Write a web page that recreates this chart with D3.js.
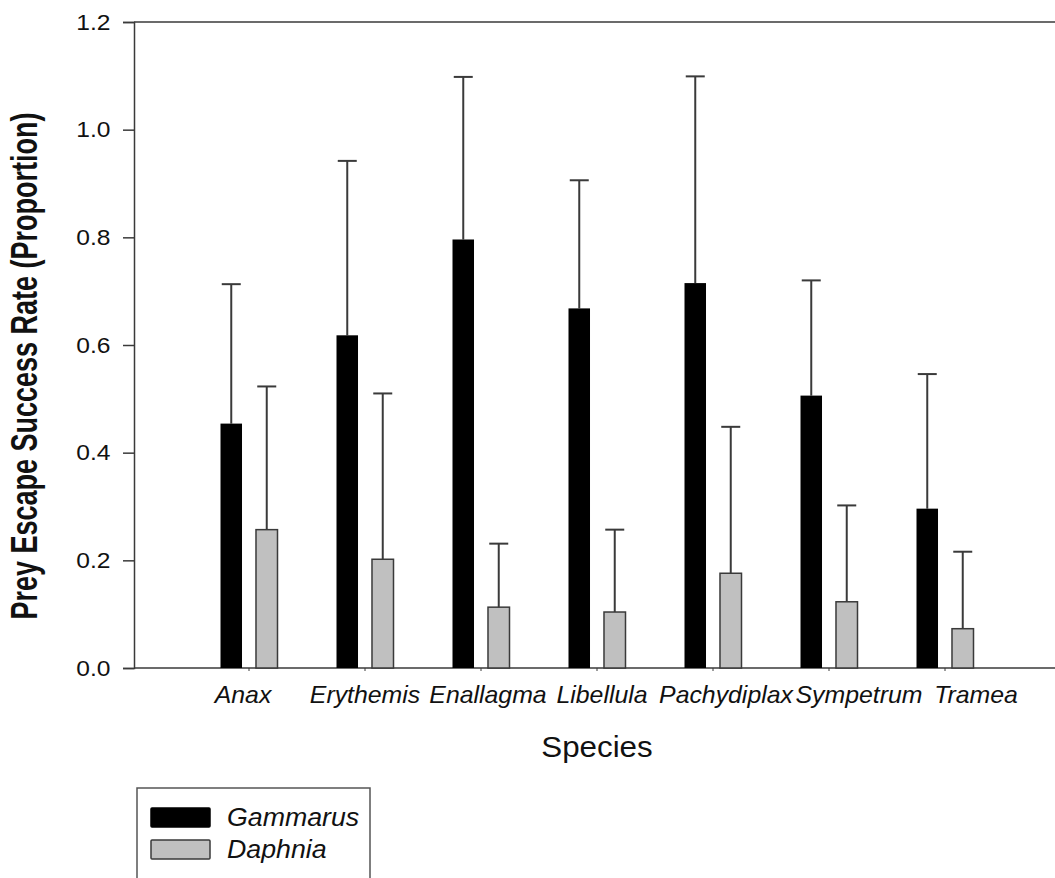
<!DOCTYPE html>
<html>
<head>
<meta charset="utf-8">
<script src="https://cdn.jsdelivr.net/npm/d3@7"></script>
<style>
  html, body { margin: 0; padding: 0; background: #fff; }
  svg { display: block; }
  text { font-family: Arial, "Liberation Sans", sans-serif; fill: #111; }
</style>
</head>
<body>
<svg id="chart" width="1055" height="878"></svg>
<script>
// ---- data ----
const species = ["Anax", "Erythemis", "Enallagma", "Libellula", "Pachydiplax", "Sympetrum", "Tramea"];
const seriesNames = ["Gammarus", "Daphnia"];
const gammarusMean = [0.454, 0.618, 0.796, 0.668, 0.715, 0.506, 0.296];
const gammarusErr  = [0.259, 0.324, 0.302, 0.238, 0.384, 0.214, 0.250];
const daphniaMean  = [0.257, 0.202, 0.113, 0.104, 0.176, 0.123, 0.073];
const daphniaErr   = [0.266, 0.308, 0.118, 0.153, 0.272, 0.179, 0.143];
const yTicks = [0.0, 0.2, 0.4, 0.6, 0.8, 1.0, 1.2];

// ---- layout ----
const W = 1055, H = 878;
const axisLeft = 134, axisRight = 1055, axisTop = 22, axisBottom = 668;
const labelNudge = [-6, 0, 7, 5, 13, 30, 31]; // label placement (avoid overlap, as in original)
const fills = { Gammarus: "#000000", Daphnia: "#c0c0c0" };
const lineCol = "#3a3a3a";
const FONT = "Arial, 'Liberation Sans', sans-serif";

const svg = d3.select("#chart");

const y = d3.scaleLinear().domain([0, 1.2]).range([axisBottom, axisTop]);
const x = d3.scaleBand().domain(species).range([191, 1003]).paddingInner(0).paddingOuter(0);
const xs = d3.scaleBand().domain(seriesNames).range([-28.5, 28.5]).paddingInner(0.394).paddingOuter(0);

const rows = [];
species.forEach((s, i) => {
  rows.push({ sp: s, ser: "Gammarus", v: gammarusMean[i], e: gammarusErr[i] });
  rows.push({ sp: s, ser: "Daphnia", v: daphniaMean[i], e: daphniaErr[i] });
});
const cx = s => x(s) + x.bandwidth() / 2;

// top frame line
svg.append("line")
  .attr("x1", axisLeft).attr("x2", axisRight)
  .attr("y1", y(1.2)).attr("y2", y(1.2))
  .attr("stroke", lineCol).attr("stroke-width", 1.5);

// y axis
const yAxis = d3.axisLeft(y).tickValues(yTicks).tickFormat(d3.format(".1f")).tickSize(11).tickPadding(10);
const gy = svg.append("g").attr("transform", `translate(${axisLeft},0)`).call(yAxis);
gy.select(".domain").attr("stroke", lineCol).attr("stroke-width", 1.5);
gy.selectAll(".tick line").attr("stroke", lineCol).attr("stroke-width", 1.5);
gy.selectAll(".tick text")
  .style("font-size", "22px").style("font-family", FONT).attr("fill", "#111")
  .attr("transform", "scale(1.12,1)");

// x axis
const xAxis = d3.axisBottom(x).tickSize(3).tickFormat("");
const gx = svg.append("g").attr("transform", `translate(0,${axisBottom})`).call(xAxis);
gx.select(".domain").remove();
gx.append("line").attr("x1", axisLeft).attr("x2", axisRight).attr("y1", 0).attr("y2", 0)
  .attr("stroke", lineCol).attr("stroke-width", 1.5);
gx.selectAll(".tick line").attr("stroke", lineCol).attr("stroke-width", 1);

// category labels
svg.append("g").selectAll("text").data(species).join("text")
  .attr("transform", (d, i) => `translate(${cx(d) + labelNudge[i]},703) scale(1.08,1)`)
  .attr("text-anchor", "middle")
  .style("font-size", "23px")
  .style("font-style", "italic")
  .text(d => d);

// error bars (upper only)
const eb = svg.append("g");
eb.selectAll("line.v").data(rows).join("line").attr("class", "v")
  .attr("x1", d => cx(d.sp) + xs(d.ser) + xs.bandwidth() / 2)
  .attr("x2", d => cx(d.sp) + xs(d.ser) + xs.bandwidth() / 2)
  .attr("y1", d => y(d.v)).attr("y2", d => y(d.v + d.e))
  .attr("stroke", lineCol).attr("stroke-width", 2);
eb.selectAll("line.c").data(rows).join("line").attr("class", "c")
  .attr("x1", d => cx(d.sp) + xs(d.ser) + xs.bandwidth() / 2 - 9.5)
  .attr("x2", d => cx(d.sp) + xs(d.ser) + xs.bandwidth() / 2 + 9.5)
  .attr("y1", d => y(d.v + d.e)).attr("y2", d => y(d.v + d.e))
  .attr("stroke", lineCol).attr("stroke-width", 2);

// bars
svg.append("g").selectAll("rect").data(rows).join("rect")
  .attr("x", d => cx(d.sp) + xs(d.ser))
  .attr("width", xs.bandwidth())
  .attr("y", d => y(d.v))
  .attr("height", d => y(0) - y(d.v))
  .attr("fill", d => fills[d.ser])
  .attr("stroke", d => d.ser === "Daphnia" ? lineCol : "none")
  .attr("stroke-width", 1.5);

// axis titles
svg.append("text")
  .attr("transform", `translate(37,${(112 + 620) / 2}) scale(1.35,1) rotate(-90)`)
  .attr("text-anchor", "middle")
  .style("font-size", "27px").style("font-weight", "bold")
  .text("Prey Escape Success Rate (Proportion)");

svg.append("text")
  .attr("transform", "translate(597,757) scale(1.08,1)")
  .attr("text-anchor", "middle")
  .style("font-size", "29px")
  .text("Species");

// legend
const lg = svg.append("g");
lg.append("rect").attr("x", 137).attr("y", 788).attr("width", 233).attr("height", 100)
  .attr("fill", "#fff").attr("stroke", "#555").attr("stroke-width", 1.5);
const li = lg.selectAll("g.item").data(seriesNames).join("g").attr("class", "item")
  .attr("transform", (d, i) => `translate(151,${808 + i * 32})`);
li.append("rect").attr("width", 59).attr("height", 19)
  .attr("fill", d => fills[d])
  .attr("stroke", d => d === "Daphnia" ? lineCol : "#000").attr("stroke-width", 1.5)
  .attr("rx", 1);
li.append("text").attr("transform", "translate(76,18) scale(1.07,1)")
  .style("font-size", "25px").style("font-style", "italic")
  .text(d => d);
</script>
</body>
</html>
